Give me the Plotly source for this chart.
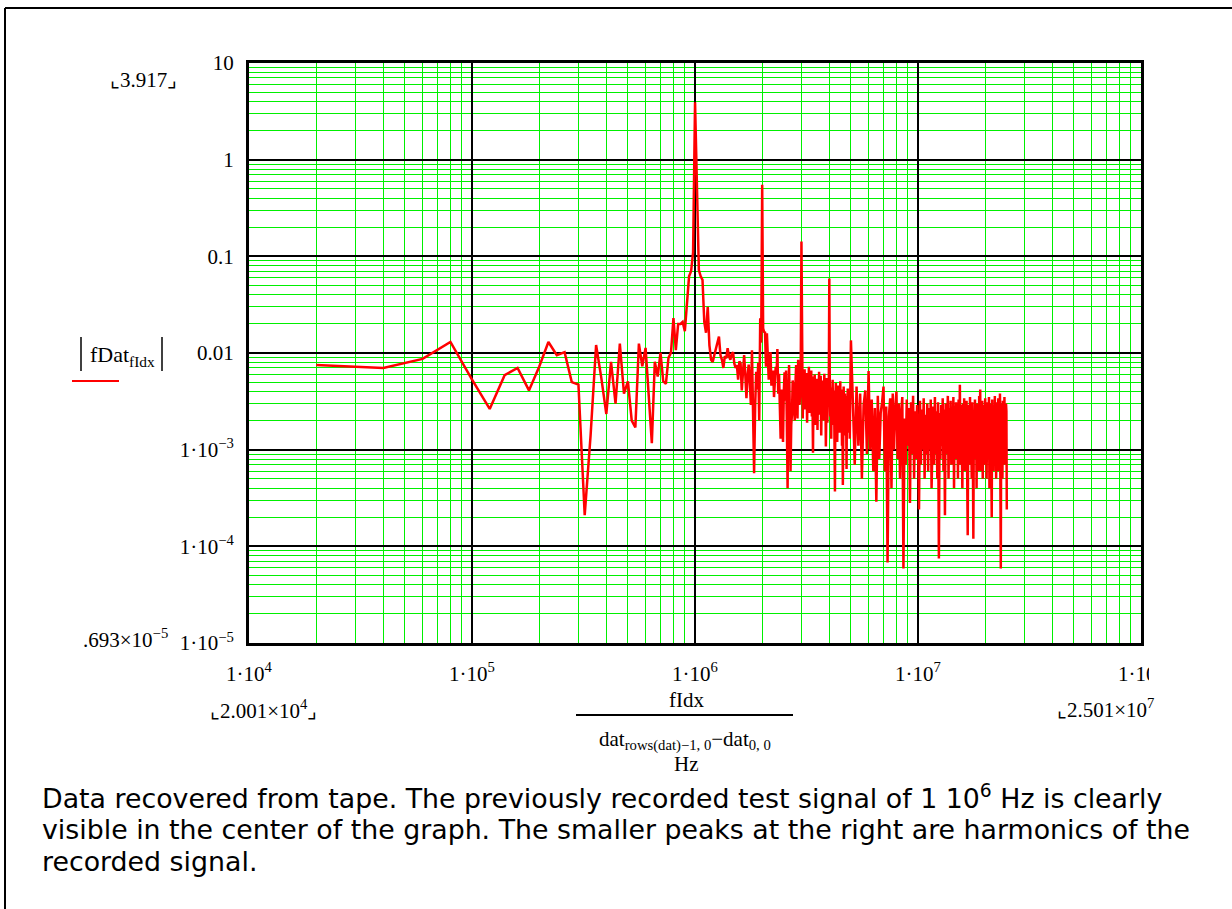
import plotly.graph_objects as go

# ---------------- data ----------------
DF_HZ = 20010.0  # frequency resolution (first bin = 2.001e4 Hz)

# bins 1..150 (2e4 .. 3e6 Hz)
sparse_bins = list(range(1, 151))
sparse_mag = [
    0.0075, 0.0070, 0.0087, 0.0130, 0.0053, 0.00264, 0.0059, 0.0070, 0.0041, 0.0072,
    0.0130, 0.0095, 0.0102, 0.0050, 0.0047, 0.00021, 0.0014, 0.0121, 0.0055, 0.00234,
    0.0081, 0.0030, 0.0125, 0.0038, 0.0051, 0.0020, 0.0017, 0.0125, 0.0073, 0.0113,
    0.0036, 0.00117, 0.0081, 0.0057, 0.0101, 0.0051, 0.0048, 0.0089, 0.0101, 0.023,
    0.0107, 0.020, 0.020, 0.021, 0.0168, 0.033, 0.062, 0.070, 0.11, 3.917,
    0.35, 0.072, 0.062, 0.057, 0.021, 0.0162, 0.030, 0.012, 0.0085, 0.0081,
    0.0095, 0.011, 0.0125, 0.0148, 0.0095, 0.0085, 0.0070, 0.0093, 0.0088, 0.0112,
    0.0092, 0.0085, 0.0098, 0.0102, 0.0078, 0.0070, 0.0075, 0.0053, 0.0082, 0.0078,
    0.0041, 0.0068, 0.0095, 0.0060, 0.0034, 0.0058, 0.0076, 0.0050, 0.0029, 0.0107,
    0.0031, 0.00057, 0.0028, 0.0064, 0.0042, 0.0079, 0.0020, 0.0229, 0.0128, 0.55,
    0.018, 0.0165, 0.0163, 0.0072, 0.016, 0.0085, 0.0053, 0.0075, 0.0102, 0.0046,
    0.0058, 0.0066, 0.0035, 0.0046, 0.0072, 0.0060, 0.011, 0.0038, 0.0061, 0.0028,
    0.0013, 0.0042, 0.0023, 0.0012, 0.0039, 0.0063, 0.0032, 0.0066, 0.0019, 0.0004,
    0.0031, 0.0075, 0.0026, 0.0006, 0.0018, 0.0023, 0.0052, 0.0043, 0.0027, 0.0020,
    0.0048, 0.0075, 0.0034, 0.0021, 0.0085, 0.0047, 0.0029, 0.0036, 0.0088, 0.142,
]

# bins 151..249 (3.02e6 .. 4.98e6 Hz)
dense1_bins = list(range(151, 250))
dense1_mag = [
    0.0090, 0.0021, 0.0053, 0.0033, 0.0068, 0.0026, 0.0045, 0.0062, 0.0019, 0.0051,
    0.0038, 0.0072, 0.0024, 0.0049, 0.0031, 0.0066, 0.0022, 0.0041, 0.00093, 0.0057,
    0.0035, 0.0060, 0.0018, 0.0044, 0.0029, 0.0054, 0.0016, 0.0047, 0.0036, 0.0064,
    0.0023, 0.0039, 0.0058, 0.0014, 0.0043, 0.0027, 0.0052, 0.0020, 0.0037, 0.0061,
    0.0025, 0.0046, 0.00108, 0.0034, 0.0055, 0.0019, 0.0040, 0.0029, 0.0050, 0.059,
    0.0048, 0.0022, 0.0036, 0.0013, 0.0044, 0.0027, 0.0053, 0.0018, 0.0031, 0.0041,
    0.0016, 0.00037, 0.0035, 0.0049, 0.0021, 0.0038, 0.0012, 0.0030, 0.0046, 0.0024,
    0.0039, 0.0015, 0.0033, 0.0051, 0.0020, 0.0028, 0.0042, 0.0011, 0.0026, 0.00043,
    0.0034, 0.0045, 0.0017, 0.0029, 0.0038, 0.0014, 0.0032, 0.0022, 0.00063, 0.0036,
    0.0027, 0.0043, 0.0015, 0.0031, 0.0024, 0.0040, 0.0013, 0.0028, 0.0021,
]

# bins 250..1250, every 5th bin (5e6 .. 2.501e7 Hz)
dense2_bins = list(range(250, 1251, 5))
dense2_mag = [
    0.0135, 0.0032, 0.0007, 0.0045, 0.0011, 0.0038, 0.0005, 0.0029, 0.0041, 0.0009,
    0.0065, 0.0010, 0.0033, 0.0006, 0.0027, 0.00029, 0.0036, 0.0008, 0.0024, 0.0031,
    0.0045, 0.0006, 0.0028, 0.000068, 0.0022, 0.0034, 0.0004, 0.0038, 0.0010, 0.0026,
    0.0040, 0.0008, 0.0030, 0.0005, 0.0024, 0.0035, 0.000059, 0.0021, 0.0007, 0.0033,
    0.0011, 0.0027, 0.00028, 0.0031, 0.0009, 0.0036, 0.0005, 0.0025, 0.0008, 0.0029,
    0.0012, 0.00024, 0.0032, 0.0007, 0.0026, 0.0010, 0.0034, 0.0005, 0.0023, 0.0009,
    0.0030, 0.0006, 0.0027, 0.0010, 0.0033, 0.0004, 0.0022, 0.0028, 0.0007, 0.0035,
    0.0009, 0.0025, 0.0005, 0.0031, 0.000075, 0.0024, 0.0008, 0.0029, 0.0011, 0.0034,
    0.0006, 0.0026, 0.00021, 0.0030, 0.0009, 0.0022, 0.0036, 0.0005, 0.0027, 0.0010,
    0.0032, 0.0007, 0.0024, 0.0012, 0.0035, 0.0004, 0.0028, 0.0008, 0.0031, 0.0010,
    0.0025, 0.0005, 0.0033, 0.0009, 0.0047, 0.0007, 0.0029, 0.0012, 0.0004, 0.0030,
    0.0008, 0.0034, 0.0006, 0.0026, 0.0011, 0.0032, 0.0005, 0.00013, 0.0023, 0.0029,
    0.0007, 0.0035, 0.0010, 0.0027, 0.0005, 0.0031, 0.0012, 0.00012, 0.0025, 0.0008,
    0.0033, 0.0010, 0.0028, 0.0004, 0.0030, 0.0009, 0.0024, 0.0006, 0.0036, 0.0011,
    0.0042, 0.0006, 0.0027, 0.0009, 0.0032, 0.0005, 0.0029, 0.0011, 0.0025, 0.0007,
    0.0034, 0.0010, 0.0023, 0.0005, 0.0031, 0.0008, 0.0028, 0.0012, 0.0035, 0.0004,
    0.0026, 0.0009, 0.0030, 0.0006, 0.00020, 0.0033, 0.0010, 0.0024, 0.0006, 0.0029,
    0.0009, 0.0036, 0.0007, 0.0027, 0.0005, 0.0031, 0.0011, 0.0025, 0.0008, 0.0034,
    0.0006, 0.0028, 0.0010, 0.0038, 0.0007, 0.000059, 0.0030, 0.0012, 0.0026, 0.0005,
    0.0032, 0.0009, 0.0029, 0.0011, 0.0035, 0.0007, 0.0027, 0.0010, 0.0030, 0.0025,
    0.00024,
]

y_tick_vals = [1e-5, 1e-4, 1e-3, 0.01, 0.1, 1, 10]
y_tick_text = ["1·10<sup>−5</sup>", "1·10<sup>−4</sup>", "1·10<sup>−3</sup>",
               "0.01", "0.1", "1", "10"]
x_tick_vals = [1e4, 1e5, 1e6, 1e7, 1e8]
x_tick_text = ["1·10<sup>4</sup>", "1·10<sup>5</sup>", "1·10<sup>6</sup>",
               "1·10<sup>7</sup>", "1·10<sup>8</sup>"]

caption_lines = [
    "Data recovered from tape. The previously recorded test signal of 1 10<sup>6</sup> Hz is clearly",
    "visible in the center of the graph. The smaller peaks at the right are harmonics of the",
    "recorded signal.",
]

# ---------------- figure ----------------
assert len(sparse_bins) == len(sparse_mag)
assert len(dense1_bins) == len(dense1_mag)
assert len(dense2_bins) == len(dense2_mag)

bins = sparse_bins + dense1_bins + dense2_bins
mags = sparse_mag + dense1_mag + dense2_mag
freqs = [k * DF_HZ for k in bins]

W, H = 1232, 909
L, R, T, B = 249, 1141, 63, 643


def px(x):
    return (x - L) / (R - L)


def py(y):
    return (B - y) / (B - T)


SERIF = "Liberation Serif"
GREEN = "#00f000"

fig = go.Figure()
fig.add_trace(go.Scatter(x=freqs, y=mags, mode="lines",
                         line=dict(color="#ff0000", width=2.5),
                         hoverinfo="skip", showlegend=False))

axis_common = dict(
    type="log",
    showgrid=True, gridcolor="black", gridwidth=2,
    showline=True, linecolor="black", linewidth=3, mirror=True,
    ticks="", zeroline=False,
    tickfont=dict(family=SERIF, size=21, color="black"),
    minor=dict(dtick="D1", showgrid=True, gridcolor=GREEN, gridwidth=1, ticks=""),
)

fig.update_xaxes(range=[4, 8], tickvals=x_tick_vals, ticktext=x_tick_text,
                 ticklabelstandoff=10, **axis_common)
fig.update_yaxes(range=[-5, 1], tickvals=y_tick_vals, ticktext=y_tick_text,
                 ticklabelstandoff=8, **axis_common)

ann = []


def add_text(text, x, y, xanchor="center", size=21, family=SERIF, yanchor="middle"):
    ann.append(dict(text=text, x=px(x), y=py(y), xref="paper", yref="paper",
                    xanchor=xanchor, yanchor=yanchor, showarrow=False,
                    font=dict(family=family, size=size, color="black")))


add_text("⌞3.917⌟", 143, 80)
add_text(".693×10<sup>−5</sup>", 170, 638, xanchor="right")
add_text("⌞2.001×10<sup>4</sup>⌟", 263, 709)
add_text("⌞2.501×10<sup>7</sup>", 1055, 708, xanchor="left")
add_text("fDat<sub>fIdx</sub>", 122, 356, size=22)
add_text("fIdx", 686, 700)
add_text("dat<sub>rows(dat)−1, 0</sub>−dat<sub>0, 0</sub>", 685, 740)
add_text("Hz", 686, 764)

for i, line in enumerate(caption_lines):
    add_text(line, 40, 797 + 32 * i, xanchor="left", size=26.8, family="DejaVu Sans")

shapes = [
    # fraction bar of the x-axis label
    dict(type="line", xref="paper", yref="paper", x0=px(576), x1=px(793),
         y0=py(715), y1=py(715), line=dict(color="black", width=2)),
    # absolute value bars around the y label
    dict(type="line", xref="paper", yref="paper", x0=px(81), x1=px(81),
         y0=py(337), y1=py(371), line=dict(color="black", width=1.5)),
    dict(type="line", xref="paper", yref="paper", x0=px(162), x1=px(162),
         y0=py(337), y1=py(371), line=dict(color="black", width=1.5)),
    # legend sample under the y label
    dict(type="line", xref="paper", yref="paper", x0=px(72), x1=px(119),
         y0=py(381), y1=py(381), line=dict(color="#ff0000", width=2)),
    # region frame
    dict(type="line", xref="paper", yref="paper", x0=px(5), x1=px(5),
         y0=py(8), y1=py(H + 5), line=dict(color="black", width=2)),
    dict(type="line", xref="paper", yref="paper", x0=px(5), x1=px(W + 5),
         y0=py(8), y1=py(8), line=dict(color="black", width=2)),
    # region clip at the right edge of the x tick labels
    dict(type="rect", xref="paper", yref="paper", layer="above",
         x0=px(1149), x1=px(W + 5), y0=py(655), y1=py(692),
         fillcolor="white", line=dict(width=0)),
]

fig.update_layout(
    width=W, height=H, autosize=False,
    margin=dict(l=L, r=W - R, t=T, b=H - B),
    paper_bgcolor="white", plot_bgcolor="white",
    showlegend=False,
    annotations=ann, shapes=shapes,
)

fig.write_html("out.html")
